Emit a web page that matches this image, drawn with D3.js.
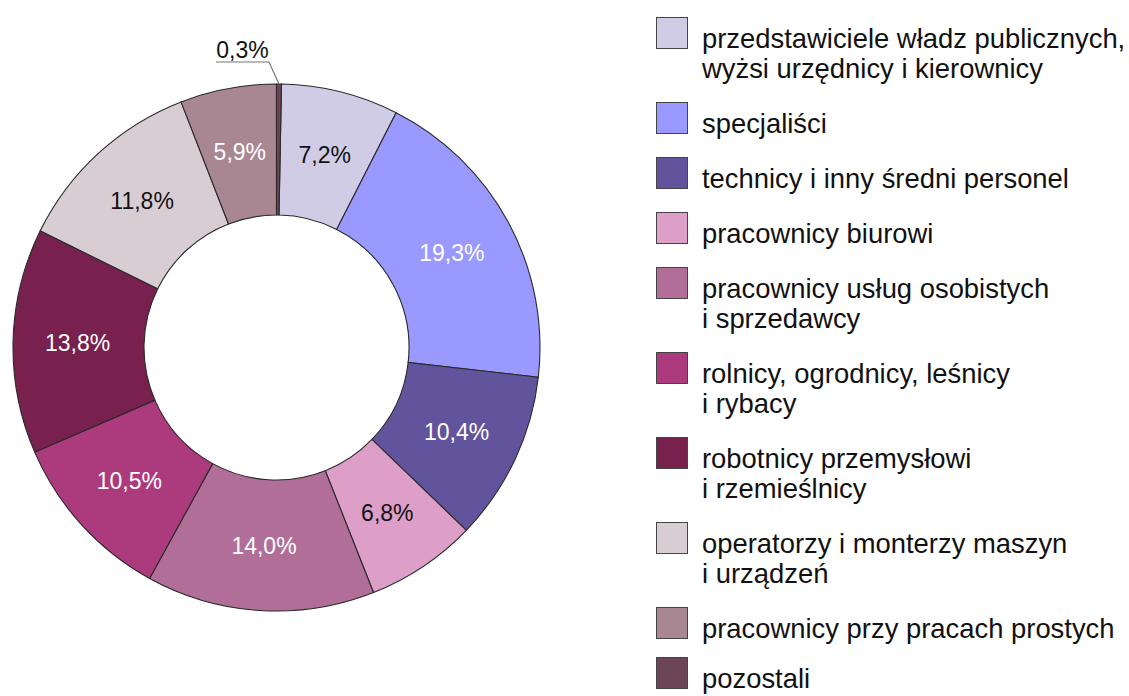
<!DOCTYPE html>
<html>
<head>
<meta charset="utf-8">
<script src="https://cdn.jsdelivr.net/npm/d3@7"></script>
<style>
  html, body { margin: 0; padding: 0; background: #fff; }
  svg { display: block; font-family: "Liberation Sans", Arial, sans-serif; }
</style>
</head>
<body>
<div id="viz"></div>
<script>
// dane
const categories = [
  'przedstawiciele władz publicznych,\nwyżsi urzędnicy i kierownicy',
  'specjaliści',
  'technicy i inny średni personel',
  'pracownicy biurowi',
  'pracownicy usług osobistych\ni sprzedawcy',
  'rolnicy, ogrodnicy, leśnicy\ni rybacy',
  'robotnicy przemysłowi\ni rzemieślnicy',
  'operatorzy i monterzy maszyn\ni urządzeń',
  'pracownicy przy pracach prostych',
  'pozostali'
];
const values = [7.2, 19.3, 10.4, 6.8, 14.0, 10.5, 13.8, 11.8, 5.9, 0.3];
const colors = ['#d0cce6', '#9999ff', '#62549c', '#dd9ec8', '#b06e99',
                '#ac3b7e', '#78204e', '#d9cdd4', '#a88793', '#6b4556'];
const labelColors = ['#111', '#fff', '#fff', '#111', '#fff',
                     '#fff', '#fff', '#111', '#fff', '#111'];

const width = 1129, height = 696;
const cx = 276.5, cy = 347.5, R = 263.5, r0 = 132.5;
const fmt = v => d3.format('.1f')(v).replace('.', ',') + '%';

const svg = d3.select('#viz').append('svg')
  .attr('width', width).attr('height', height);

const items = values.map((v, i) => ({ i, value: v }));

// wykres pierścieniowy
const offset = values[values.length - 1] / 100 * 2 * Math.PI;
const pie = d3.pie().value(d => d.value).sort(null)
  .startAngle(offset).endAngle(offset + 2 * Math.PI);
const arc = d3.arc().innerRadius(r0).outerRadius(R);
const labelArc = d3.arc().innerRadius(199).outerRadius(199);

const g = svg.append('g').attr('transform', `translate(${cx},${cy})`);
const arcs = pie(items);

g.selectAll('path.slice')
  .data(arcs)
  .enter().append('path')
    .attr('class', 'slice')
    .attr('d', arc)
    .attr('fill', d => colors[d.data.i])
    .attr('stroke', '#2a2a2a')
    .attr('stroke-width', 1.1);

g.selectAll('text.lbl')
  .data(arcs.filter(d => d.data.value >= 1))
  .enter().append('text')
    .attr('class', 'lbl')
    .attr('transform', d => `translate(${labelArc.centroid(d)})`)
    .attr('text-anchor', 'middle')
    .attr('dy', '0.35em')
    .attr('font-size', 23)
    .attr('fill', d => labelColors[d.data.i])
    .text(d => fmt(d.data.value));

// mała wartość - etykieta z linią
const small = arcs.filter(d => d.data.value < 1);
small.forEach(d => {
  const a = (d.startAngle + d.endAngle) / 2;
  const px = Math.sin(a) * R, py = -Math.cos(a) * R;
  const ex = px - 10, ey = py - 22;
  g.append('polyline')
    .attr('points', [[px, py], [ex, ey], [ex - 53, ey]].map(p => p.join(',')).join(' '))
    .attr('fill', 'none')
    .attr('stroke', '#777')
    .attr('stroke-width', 1.2);
  g.append('text')
    .attr('x', ex - 53 / 2).attr('y', ey - 4)
    .attr('text-anchor', 'middle')
    .attr('font-size', 23)
    .attr('fill', labelColors[d.data.i])
    .text(fmt(d.data.value));
});

// legenda
const legend = svg.append('g').attr('class', 'legend');
let y = 17;
categories.forEach((c, i) => {
  const lines = c.split('\n');
  // ostatni wiersz nie może wyjść poza dół
  const top = Math.min(y, height - 39 - 30 * (lines.length - 1));
  const row = legend.append('g').attr('transform', `translate(656,${top})`);
  row.append('rect')
    .attr('x', 0.5).attr('y', 0.5)
    .attr('width', 31).attr('height', 31)
    .attr('fill', colors[i])
    .attr('stroke', '#444')
    .attr('stroke-width', 1);
  const t = row.append('text')
    .attr('x', 46).attr('y', 31)
    .attr('font-size', 27.4)
    .attr('fill', '#111');
  lines.forEach((l, k) => {
    t.append('tspan').attr('x', 46).attr('dy', k === 0 ? 0 : 30).text(l);
  });
  y += 55 + 30 * (lines.length - 1);
});
</script>
</body>
</html>
